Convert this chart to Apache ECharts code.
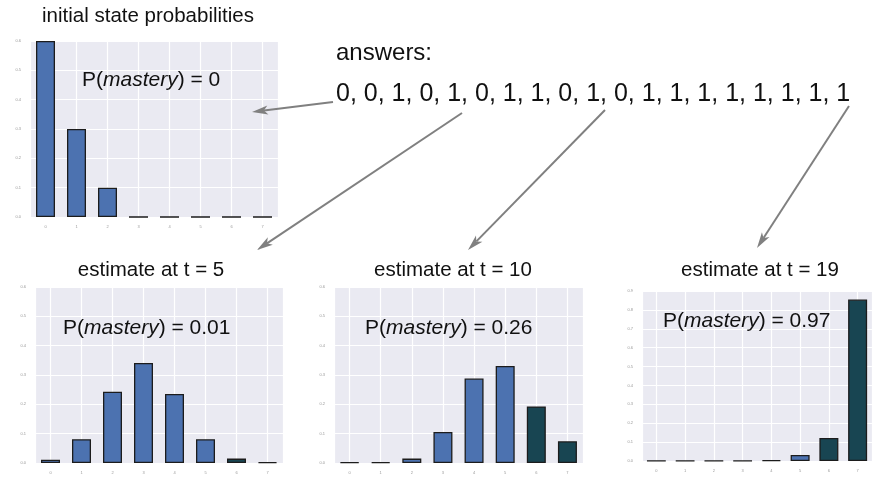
<!DOCTYPE html>
<html>
<head>
<meta charset="utf-8">
<script src="https://cdn.jsdelivr.net/npm/echarts@6/dist/echarts.min.js"></script>
<style>
  html, body { margin: 0; padding: 0; background: #fff; }
  #chart { width: 872px; height: 479px; }
</style>
</head>
<body>
<div id="chart"></div>
<script>
// knowledge states 0..7, states 6 and 7 count as "mastery"
const states = [0, 1, 2, 3, 4, 5, 6, 7];
const masteryStates = [6, 7];

const initialProbs = [0.6, 0.3, 0.1, 0, 0, 0, 0, 0];
const estimateT5 = [0.011, 0.081, 0.243, 0.341, 0.235, 0.081, 0.015, 0.003];
const estimateT10 = [0.002, 0.003, 0.015, 0.106, 0.288, 0.331, 0.193, 0.074];
const estimateT19 = [0.001, 0.001, 0.001, 0.001, 0.005, 0.032, 0.122, 0.855];

const answers = [0, 0, 1, 0, 1, 0, 1, 1, 0, 1, 0, 1, 1, 1, 1, 1, 1, 1, 1];
const panelTitles = ['initial state probabilities', 'estimate at t = 5', 'estimate at t = 10', 'estimate at t = 19'];
const masteryLabels = ['0', '0.01', '0.26', '0.97'];

const FONT = '"Liberation Sans", Arial, sans-serif';
const BLUE = '#4c72b0';
const DARK = '#184552';
const ARROW = '#808080';

const chartDom = document.getElementById('chart');
const myChart = echarts.init(chartDom, null, { renderer: 'canvas' });

// panel boxes (px)
const panels = [
  { data: initialProbs, left: 30, top: 41, width: 248, height: 176, yMax: 0.6 },
  { data: estimateT5, left: 35, top: 287, width: 248, height: 176, yMax: 0.6 },
  { data: estimateT10, left: 334, top: 287, width: 249, height: 176, yMax: 0.6 },
  { data: estimateT19, left: 642, top: 291, width: 240, height: 170, yMax: 0.9 },
];

const grid = [], xAxis = [], yAxis = [], series = [];
panels.forEach((p, i) => {
  grid.push({
    left: p.left, top: p.top, width: p.width, height: p.height,
    show: true, backgroundColor: '#eaeaf2', borderWidth: 0,
  });
  xAxis.push({
    type: 'value', gridIndex: i,
    min: -0.5, max: 7.5, splitNumber: 8,
    axisLine: { show: false }, axisTick: { show: false },
    axisLabel: {
      fontSize: 4, color: '#999', margin: 8,
      showMinLabel: false, showMaxLabel: false,
      formatter: v => (Number.isInteger(v) ? String(v) : ''),
    },
    splitLine: { show: true, lineStyle: { color: '#fff', width: 1.2 } },
  });
  yAxis.push({
    type: 'value', gridIndex: i,
    min: 0, max: p.yMax, interval: 0.1,
    axisLine: { show: false }, axisTick: { show: false },
    axisLabel: { fontSize: 4, color: '#999', margin: 9, formatter: v => v.toFixed(1) },
    splitLine: { show: true, lineStyle: { color: '#fff', width: 1.2 } },
  });
  series.push({
    type: 'bar', xAxisIndex: i, yAxisIndex: i,
    data: states.map((s, k) => [s, p.data[k]]),
    barWidth: 19,
    clip: true,
    itemStyle: {
      color: params => (masteryStates.includes(params.value[0]) ? DARK : BLUE),
      borderColor: '#1c1c1c', borderWidth: 1.3,
    },
    emphasis: { disabled: true },
  });
});

// texts
const text = (x, y, str, size, align, rich) => ({
  type: 'text', x, y, z: 100, silent: true,
  style: {
    text: str, fill: '#111', font: `${size}px ${FONT}`,
    align: align || 'left', verticalAlign: 'middle', rich: rich,
  },
});
const italic = { i: { fontStyle: 'italic', fontSize: 21, fontFamily: FONT, fill: '#111' } };

const graphics = [
  text(148, 16, panelTitles[0], 20.5, 'center'),
  text(151, 270, panelTitles[1], 20.5, 'center'),
  text(453, 270, panelTitles[2], 20.5, 'center'),
  text(760, 270, panelTitles[3], 20.5, 'center'),
  text(336, 53, 'answers:', 24),
  text(336, 94, answers.join(', '), 25),
  text(82, 80, 'P({i|mastery}) = ' + masteryLabels[0], 21, 'left', italic),
  text(63, 328, 'P({i|mastery}) = ' + masteryLabels[1], 21, 'left', italic),
  text(365, 328, 'P({i|mastery}) = ' + masteryLabels[2], 21, 'left', italic),
  text(663, 321, 'P({i|mastery}) = ' + masteryLabels[3], 21, 'left', italic),
];

// arrows: [x1, y1, tipX, tipY]
const arrows = [
  [333, 102, 252, 112],
  [462, 113, 257, 250],
  [605, 110, 468, 250],
  [849, 106, 757, 248],
];
arrows.forEach(([x1, y1, x2, y2]) => {
  const ang = Math.atan2(y2 - y1, x2 - x1);
  const len = 16, half = 4.5, notch = 12;
  const cos = Math.cos(ang), sin = Math.sin(ang);
  const bx = x2 - len * cos, by = y2 - len * sin;
  const nx = x2 - notch * cos, ny = y2 - notch * sin;
  graphics.push({
    type: 'line', z: 100, silent: true,
    shape: { x1, y1, x2: nx, y2: ny },
    style: { stroke: ARROW, lineWidth: 2 },
  });
  graphics.push({
    type: 'polygon', z: 100, silent: true,
    shape: {
      points: [
        [x2, y2],
        [bx - half * sin, by + half * cos],
        [nx, ny],
        [bx + half * sin, by - half * cos],
      ],
    },
    style: { fill: ARROW },
  });
});

const option = {
  animation: false,
  backgroundColor: '#fff',
  textStyle: { fontFamily: FONT },
  grid, xAxis, yAxis, series,
  graphic: graphics,
};

myChart.setOption(option);
window.addEventListener('resize', () => myChart.resize());
</script>
</body>
</html>
